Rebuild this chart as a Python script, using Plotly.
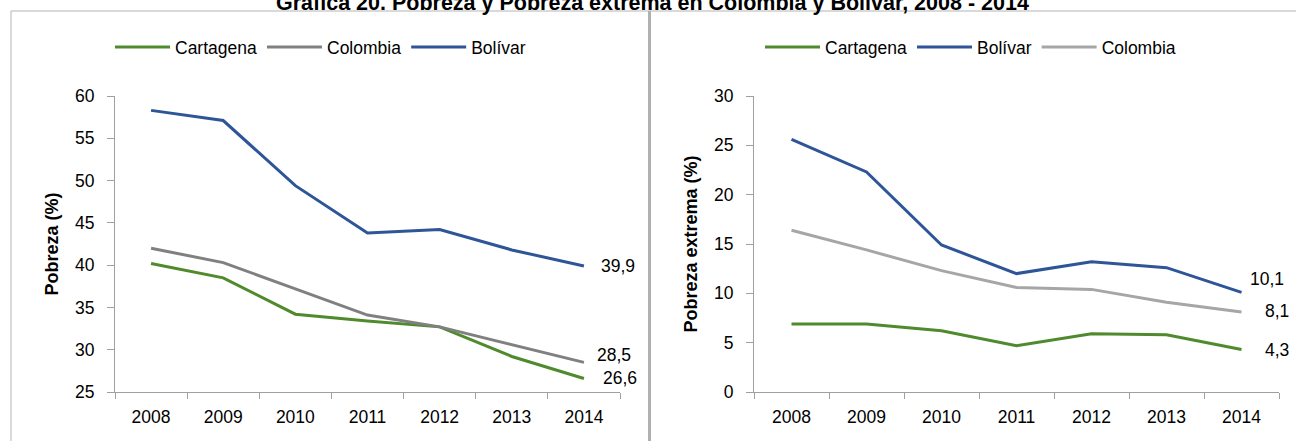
import plotly.graph_objects as go

# ---------------- data ----------------
years = ["2008", "2009", "2010", "2011", "2012", "2013", "2014"]

pobreza_cartagena = [40.2, 38.5, 34.2, 33.4, 32.7, 29.2, 26.6]
pobreza_colombia = [42.0, 40.3, 37.2, 34.1, 32.7, 30.6, 28.5]
pobreza_bolivar = [58.3, 57.1, 49.4, 43.8, 44.2, 41.8, 39.9]

extrema_cartagena = [6.9, 6.9, 6.2, 4.7, 5.9, 5.8, 4.3]
extrema_bolivar = [25.6, 22.3, 14.9, 12.0, 13.2, 12.6, 10.1]
extrema_colombia = [16.4, 14.4, 12.3, 10.6, 10.4, 9.1, 8.1]

pobreza_ticks = [25, 30, 35, 40, 45, 50, 55, 60]
extrema_ticks = [0, 5, 10, 15, 20, 25, 30]

title_text = "Gráfica 20. Pobreza y Pobreza extrema en Colombia y Bolívar, 2008 - 2014"
ytitle_left = "Pobreza (%)"
ytitle_right = "Pobreza extrema (%)"

# ---------------- style ----------------
W, H = 1296, 441
FONT = "Liberation Sans, Arial, sans-serif"
GREEN = "#4F8A2D"
BLUE = "#2E5597"
GRAY = "#808080"
LGRAY = "#A6A6A6"
AXIS = "#A0A0A0"


def px_x(p):
    return p / W


def px_y(p):
    return 1 - p / H


fig = go.Figure()

left = [("Cartagena", pobreza_cartagena, GREEN),
        ("Colombia", pobreza_colombia, GRAY),
        ("Bolívar", pobreza_bolivar, BLUE)]
right = [("Cartagena", extrema_cartagena, GREEN),
         ("Bolívar", extrema_bolivar, BLUE),
         ("Colombia", extrema_colombia, LGRAY)]

for name, vals, col in left:
    fig.add_trace(go.Scatter(x=years, y=vals, name=name, mode="lines",
                             line=dict(color=col, width=3),
                             xaxis="x", yaxis="y", legend="legend"))
for name, vals, col in right:
    fig.add_trace(go.Scatter(x=years, y=vals, name=name, mode="lines",
                             line=dict(color=col, width=3),
                             xaxis="x2", yaxis="y2", legend="legend2"))


def fmt(v):
    return f"{v:.1f}".replace(".", ",")


label_shift_left = {"Bolívar": (15, 0), "Colombia": (11, 7), "Cartagena": (17, 0)}
label_shift_right = {"Bolívar": (6, 13), "Colombia": (21, 1), "Cartagena": (21, 0)}

annotations = []
for name, vals, col in left:
    xs, ys = label_shift_left[name]
    annotations.append(dict(x=len(years) - 1, y=vals[-1], xref="x", yref="y",
                            text=fmt(vals[-1]), showarrow=False, xanchor="left",
                            yanchor="middle", xshift=xs, yshift=ys,
                            font=dict(family=FONT, size=17.5, color="#000000")))
for name, vals, col in right:
    xs, ys = label_shift_right[name]
    annotations.append(dict(x=len(years) - 1, y=vals[-1], xref="x2", yref="y2",
                            text=fmt(vals[-1]), showarrow=False, xanchor="left",
                            yanchor="middle", xshift=xs, yshift=ys,
                            font=dict(family=FONT, size=17.5, color="#000000")))

annotations.append(dict(x=px_x(652), y=px_y(17), xref="paper", yref="paper",
                        text="<b>" + title_text + "</b>", showarrow=False,
                        xanchor="center", yanchor="bottom",
                        font=dict(family=FONT, size=21.5, color="#000000")))

axis_common = dict(showline=True, linecolor=AXIS, linewidth=1, ticks="outside",
                   tickcolor=AXIS, showgrid=False, zeroline=False,
                   tickfont=dict(family=FONT, size=17.5, color="#000000"))

fig.update_layout(
    width=W, height=H,
    margin=dict(l=0, r=0, t=0, b=0, autoexpand=False),
    paper_bgcolor="white", plot_bgcolor="white",
    font=dict(family=FONT, color="#000000"),
    xaxis=dict(domain=[px_x(115), px_x(620)], anchor="y", type="category",
               tickson="boundaries", range=[-0.5, 6.5], ticklen=6,
               ticklabelstandoff=9, automargin=False, **axis_common),
    yaxis=dict(domain=[px_y(392), px_y(96)], anchor="x", range=[25, 60],
               tickvals=pobreza_ticks, ticklen=7, ticklabelstandoff=9,
               automargin=False,
               title=dict(text="<b>" + ytitle_left + "</b>", standoff=11,
                          font=dict(family=FONT, size=18)),
               **axis_common),
    xaxis2=dict(domain=[px_x(754), px_x(1279)], anchor="y2", type="category",
                tickson="boundaries", range=[-0.5, 6.5], ticklen=6,
                ticklabelstandoff=9, automargin=False, **axis_common),
    yaxis2=dict(domain=[px_y(392), px_y(96)], anchor="x2", range=[0, 30],
                tickvals=extrema_ticks, ticklen=7, ticklabelstandoff=9,
                automargin=False,
                title=dict(text="<b>" + ytitle_right + "</b>", standoff=11,
                           font=dict(family=FONT, size=18)),
                **axis_common),
    legend=dict(orientation="h", x=px_x(110), y=px_y(47), xanchor="left",
                yanchor="middle", font=dict(family=FONT, size=17.5),
                itemwidth=55, bgcolor="rgba(0,0,0,0)"),
    legend2=dict(orientation="h", x=px_x(760), y=px_y(47), xanchor="left",
                 yanchor="middle", font=dict(family=FONT, size=17.5),
                 itemwidth=55, bgcolor="rgba(0,0,0,0)"),
    annotations=annotations,
    shapes=[
        dict(type="line", xref="paper", yref="paper", x0=px_x(11), x1=1,
             y0=px_y(11), y1=px_y(11), line=dict(color="#B4B4B4", width=1)),
        dict(type="line", xref="paper", yref="paper", x0=px_x(11), x1=px_x(11),
             y0=0, y1=px_y(11), line=dict(color="#B4B4B4", width=1)),
        dict(type="line", xref="paper", yref="paper", x0=px_x(649.5), x1=px_x(649.5),
             y0=0, y1=px_y(11), line=dict(color="#B0B0B0", width=3)),
    ],
)

fig.write_html("out.html",
               config={"displayModeBar": False},
               post_script="document.body.style.margin='0';"
                           "document.body.style.overflow='hidden';")
